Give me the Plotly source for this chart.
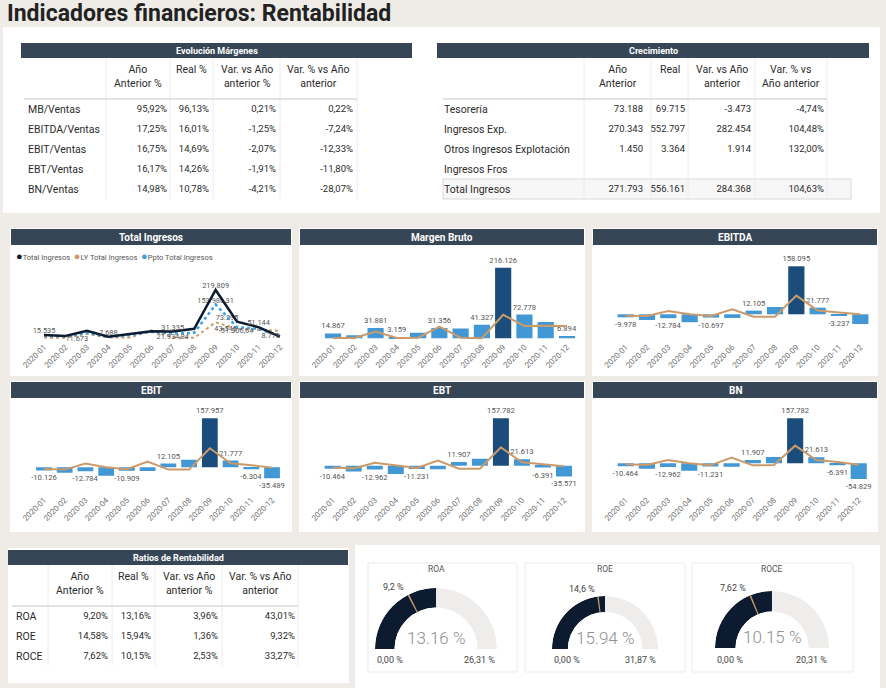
import math

import plotly.graph_objects as go

W, H = 886, 688
FONT = "Roboto, 'Open Sans', sans-serif"

BG = "#efece8"
HEAD = "#374656"
NAVY = "#0c1b2f"
TAN = "#cc9a69"
BLUE = "#4297d5"
DARK_BLUE = "#1a4c7c"
PPTO_BLUE = "#3fa2e3"
GAUGE_BG = "#efedeb"
TXT = "#2b2b2b"
LBL = "#555555"

# ---------------------------------------------------------------- data
months = [
    "2020-01", "2020-02", "2020-03", "2020-04", "2020-05", "2020-06",
    "2020-07", "2020-08", "2020-09", "2020-10", "2020-11", "2020-12",
]

margen_rows = ["MB/Ventas", "EBITDA/Ventas", "EBIT/Ventas", "EBT/Ventas", "BN/Ventas"]
margen_ly = [95.92, 17.25, 16.75, 16.17, 14.98]
margen_real = [96.13, 16.01, 14.69, 14.26, 10.78]
margen_var = [0.21, -1.25, -2.07, -1.91, -4.21]
margen_var_pct = [0.22, -7.24, -12.33, -11.80, -28.07]

crec_rows = ["Tesorería", "Ingresos Exp.", "Otros Ingresos Explotación",
             "Ingresos Fros", "Total Ingresos"]
crec_ly = [73188, 270343, 1450, None, 271793]
crec_real = [69715, 552797, 3364, None, 556161]
crec_var = [-3473, 282454, 1914, None, 284368]
crec_var_pct = [-4.74, 104.48, 132.00, None, 104.63]

ratio_rows = ["ROA", "ROE", "ROCE"]
ratio_ly = [9.20, 14.58, 7.62]
ratio_real = [13.16, 15.94, 10.15]
ratio_var = [3.96, 1.36, 2.53]
ratio_var_pct = [43.01, 9.32, 33.27]
gauge_max = [26.31, 31.87, 20.31]

ti_real = [15535, 11673, 35000, 7688, 20700, 32500, 31335, 44000, 219809, 76000, 51144, 8778]
ti_ly = [4000, 3000, 21500, 4000, 4000, 37200, 5000, 3000, 73295, 43545, 39000, 35000]
ti_ppto = [13000, 10000, 26000, 7000, 16000, 30000, 21934.84, 26000, 153986.31,
           51306.64, 44000, 10000]

mb_real = [14867, 9000, 31881, 3159, 17000, 31356, 30000, 41327, 216126, 72778, 50000, 6894]
mb_ly = [1000, 1000, 20400, 1000, 2000, 35700, 2000, 500, 72000, 37700, 38700, 37700]

ebitda = [-9978, -18700, -12784, -26000, -10697, -12000, 12105, 24000, 158095, 21777,
          -3237, -32000]
ebitda_ly = [-4400, -5500, 11000, 0, -5500, 16500, -7700, -7700, 61500, 12100, 5500, 0]

ebit = [-10126, -18000, -12784, -27000, -10909, -12000, 12105, 24700, 157957, 21777,
        -6304, -35489]
ebit_ly = [-5400, -7500, 11800, 0, -6500, 18300, -7500, -7500, 61300, 12900, 6500, -1100]

ebt = [-10464, -19000, -12962, -27800, -11231, -12000, 11907, 23000, 157782, 21613,
       -6391, -35571]
ebt_ly = [-5600, -8900, 10000, 1100, -7800, 16700, -10000, -10000, 61000, 11100, 4400, -2200]

bn = [-10464, -19000, -12962, -25700, -11231, -11700, 11907, 22000, 157782, 21613,
      -6391, -54829]
bn_ly = [-3500, -5800, 11700, 0, -7000, 19900, -7000, -5800, 62000, 11700, 4700, -4700]


# ---------------------------------------------------------------- helpers
def fx(px):
    return px / W


def fy(py):
    return 1 - py / H


def es_num(v, dec=0):
    if v is None:
        return ""
    s = f"{v:,.{dec}f}"
    return s.replace(",", "_").replace(".", ",").replace("_", ".")


def es_pct(v):
    return "" if v is None else es_num(v, 2) + "%"


fig = go.Figure()
shapes = []
annotations = []
axes = {}


def rect(x0, y0, x1, y1, fill, line=None, layer="below"):
    shapes.append(dict(
        type="rect", xref="paper", yref="paper",
        x0=fx(x0), x1=fx(x1), y0=fy(y1), y1=fy(y0),
        fillcolor=fill, layer=layer,
        line={"width": 1 if line else 0, "color": line or fill},
    ))


def seg(x0, y0, x1, y1, color, width=1):
    shapes.append(dict(
        type="line", xref="paper", yref="paper",
        x0=fx(x0), x1=fx(x1), y0=fy(y0), y1=fy(y1),
        line={"width": width, "color": color}, layer="below",
    ))


def text(x, y, s, size, color=TXT, bold=False, xanchor="center", weight=None,
         yanchor="middle"):
    font = {"family": FONT, "size": size, "color": color}
    if weight:
        font["weight"] = weight
    annotations.append(dict(
        xref="paper", yref="paper", x=fx(x), y=fy(y),
        text=f"<b>{s}</b>" if bold else s, showarrow=False, align="center",
        xanchor=xanchor, yanchor=yanchor, font=font,
    ))


def title_bar(x0, x1, y0, y1, label, size):
    rect(x0, y0, x1, y1, HEAD)
    text((x0 + x1) / 2, (y0 + y1) / 2 + 0.5, label, size, "white", bold=True)


def add_table(rows, cols, headers, bounds, seps, y0):
    # bounds: column edges of the plotly table, seps: drawn separator lines
    widths = [b - a for a, b in zip(bounds[:-1], bounds[1:])]
    top = y0 + 3
    bottom = top + 36 + 20 * len(rows) + 8
    fig.add_trace(go.Table(
        domain={"x": [fx(bounds[0]), fx(bounds[-1])], "y": [fy(bottom), fy(top)]},
        columnwidth=widths,
        header={
            "values": [""] * len(widths),
            "height": 36,
            "fill_color": "rgba(0,0,0,0)",
            "line": {"color": "rgba(0,0,0,0)", "width": 0},
        },
        cells={
            "values": [rows] + cols,
            "align": ["left"] + ["right"] * 4,
            "height": 20,
            "font": {"family": FONT, "size": [10.5, 9.5, 9.5, 9.5, 9.5], "color": TXT},
            "fill_color": "rgba(0,0,0,0)",
            "line": {"color": "rgba(0,0,0,0)", "width": 0},
        },
    ))
    # column headings, centred line by line
    for k, label in enumerate(headers):
        text((seps[k + 1] + seps[k + 2]) / 2, y0 + 3, label, 10.5, TXT, yanchor="top")
    last = y0 + 41 + 20 * len(rows)
    for x in seps[1:]:
        seg(x, y0, x, last, "#ececec")
    seg(seps[0], y0 + 41, seps[-1], y0 + 41, "#e2e2e2", 2)


def set_axes(i, xdom, ydom, yrange):
    sx = "" if i == 1 else str(i)
    axes[f"xaxis{sx}"] = dict(
        domain=[fx(xdom[0]), fx(xdom[1])], anchor=f"y{sx}", type="category",
        range=[-0.5, 11.5], tickmode="linear", tick0=0, dtick=1, tickangle=-45,
        tickfont={"family": FONT, "size": 8, "color": "#707070"},
        showgrid=False, showline=False, zeroline=False, ticks="", fixedrange=True,
        automargin=False,
    )
    axes[f"yaxis{sx}"] = dict(
        domain=[fy(ydom[1]), fy(ydom[0])], anchor=f"x{sx}", range=yrange,
        visible=False, fixedrange=True, automargin=False,
    )
    return f"x{sx}", f"y{sx}"


def bar_chart(i, values, ly, labelled, xdom, ydom, yrange):
    xa, ya = set_axes(i, xdom, ydom, yrange)
    top = max(values)
    fig.add_trace(go.Bar(
        x=months, y=values, xaxis=xa, yaxis=ya,
        marker_color=[DARK_BLUE if v == top else BLUE for v in values],
        marker_line_width=0,
        text=[es_num(v) if k in labelled else "" for k, v in enumerate(values)],
        textposition="outside", cliponaxis=False, constraintext="none",
        textfont={"family": FONT, "size": 7.6, "color": LBL},
        hoverinfo="skip", showlegend=False,
    ))
    fig.add_trace(go.Scatter(
        x=months, y=ly, xaxis=xa, yaxis=ya, mode="lines",
        line={"color": TAN, "width": 2}, hoverinfo="skip", showlegend=False,
    ))


pct_headers = ["Año<br>Anterior %", "Real %", "Var. vs Año<br>anterior %",
               "Var. % vs Año<br>anterior"]

# ---------------------------------------------------------------- panels
rect(3, 27, 880, 213, "white")
title_bar(21, 412, 43, 58, "Evolución Márgenes", 9)
title_bar(437, 869, 43, 58, "Crecimiento", 9)

add_table(
    margen_rows,
    [[es_pct(v) for v in c] for c in (margen_ly, margen_real, margen_var, margen_var_pct)],
    pct_headers,
    [20, 106, 175, 217, 284, 361],
    [24, 106, 170, 213, 280, 357], 58,
)

rect(443, 179, 851, 199, "#f7f7f7", "#d9d9d9")
add_table(
    crec_rows,
    [[es_num(v) for v in crec_ly], [es_num(v) for v in crec_real],
     [es_num(v) for v in crec_var], [es_pct(v) for v in crec_var_pct]],
    ["Año<br>Anterior", "Real", "Var. vs Año<br>anterior", "Var. % vs<br>Año anterior"],
    [436, 582, 651, 693, 759, 832],
    [443, 584, 651, 688, 755, 827], 58,
)

# chart cards
card_x = [(10, 292), (299, 585), (592, 878)]
for (cy0, cy1) in [(228, 376), (381, 532)]:
    for (x0, x1) in card_x:
        rect(x0, cy0, x1, cy1, "white")
titles = [["Total Ingresos", "Margen Bruto", "EBITDA"], ["EBIT", "EBT", "BN"]]
for r, (by0, by1) in enumerate([(229, 245), (382, 398)]):
    for c, (x0, x1) in enumerate(card_x):
        title_bar(x0 + 1, x1 - 1, by0, by1, titles[r][c], 10)

# Total Ingresos line chart
xa, ya = set_axes(1, (33.3, 290.7), (262, 340), [-6800, 346700])
ti_series = [
    (ti_ly, TAN, "dot", 2, {8: "top right", 9: "middle left"}),
    (ti_ppto, PPTO_BLUE, "dot", 2.5, {6: "bottom center", 8: "top center", 9: "bottom center"}),
    (ti_real, NAVY, "solid", 2.5, {0: "top center", 1: "bottom right", 3: "top center",
                                   6: "top center", 8: "top center", 10: "top center",
                                   11: "middle left"}),
]
for vals, color, dash, width, labels in ti_series:
    fig.add_trace(go.Scatter(
        x=months, y=vals, xaxis=xa, yaxis=ya, mode="lines+text",
        line={"color": color, "dash": dash, "width": width},
        text=[es_num(v, 0 if float(v).is_integer() else 2) if k in labels else ""
              for k, v in enumerate(vals)],
        textposition=[labels.get(k, "top center") for k in range(len(vals))],
        textfont={"family": FONT, "size": 7.4, "color": LBL},
        cliponaxis=False, hoverinfo="skip", showlegend=False,
    ))
dot = '<span style="color:{};font-size:11px">●</span>'
text(14, 256,
     f"{dot.format(NAVY)}Total Ingresos  "
     f"{dot.format(TAN)}LY Total Ingresos  "
     f"{dot.format(PPTO_BLUE)}Ppto Total Ingresos",
     7.5, "#555555", xanchor="left")

bar_chart(2, mb_real, mb_ly, [0, 2, 3, 5, 7, 8, 9, 11], (322.4, 577.6), (262, 340), [-5200, 233600])
bar_chart(3, ebitda, ebitda_ly, [0, 2, 4, 6, 8, 9, 10], (615, 871), (262, 340), [-84700, 172300])
bar_chart(4, ebit, ebit_ly, [0, 2, 4, 6, 8, 9, 10, 11], (33.6, 282.4), (412, 493), [-82900, 178300])
bar_chart(5, ebt, ebt_ly, [0, 2, 4, 6, 8, 9, 10, 11], (322.2, 574.5), (412, 493), [-90900, 178800])
bar_chart(6, bn, bn_ly, [0, 2, 4, 6, 8, 9, 10, 11], (615.1, 869.3), (412, 493), [-104000, 179900])

# ratios table
rect(8, 548, 349, 683, "white")
title_bar(8, 348, 550, 565, "Ratios de Rentabilidad", 9)
add_table(
    ratio_rows,
    [[es_pct(v) for v in c] for c in (ratio_ly, ratio_real, ratio_var, ratio_var_pct)],
    pct_headers,
    [8, 48, 116, 159, 226, 303],
    [12, 48, 112, 155, 222, 298], 565,
)

# gauges
rect(355, 545, 880, 688, "white")
gauge_cards = [(368, 517), (525, 685), (692, 853)]
gauge_cx = [436, 605, 772]
gauge_base = [649, 649, 648]
gauge_r = [61, 53, 57]
gauge_hole = [0.68, 0.70, 0.64]
polars = {}
for k, name in enumerate(ratio_rows):
    x0, x1 = gauge_cards[k]
    rect(x0, 563, x1, 672, "white", "#ebebeb")
    pid = "polar" if k == 0 else f"polar{k + 1}"
    cx, base, R = gauge_cx[k], gauge_base[k], gauge_r[k]
    frac = ratio_real[k] / gauge_max[k]
    tgt = ratio_ly[k] / gauge_max[k]
    for theta, width, color in [(90, 180, GAUGE_BG), (90 * frac, 180 * frac, NAVY),
                                (180 * tgt, 1.6, TAN)]:
        fig.add_trace(go.Barpolar(
            r=[1], theta=[theta], width=[width], subplot=pid,
            marker_color=color, marker_line_width=0, hoverinfo="skip", showlegend=False,
        ))
    polars[pid] = dict(
        domain={"x": [fx(cx - R), fx(cx + R)], "y": [fy(base), fy(base - R)]},
        sector=[0, 180], hole=gauge_hole[k], bgcolor="rgba(0,0,0,0)", barmode="overlay",
        radialaxis={"visible": False, "range": [0, 1]},
        angularaxis={"visible": False, "direction": "clockwise", "rotation": 180},
    )
    text(cx, 569, name, 8.5, "#555555")
    text(cx, base - 11, f"{ratio_real[k]:.2f} %", 17, "#8f8f8f", weight=300)
    text(cx - R, 660, es_num(0, 2) + " %", 9, "#444444", xanchor="left")
    text(cx + R, 660, es_num(gauge_max[k], 2) + " %", 9, "#444444", xanchor="right")
    ang = math.pi * (1 - tgt)
    text(cx + (R + 6) * math.cos(ang), base - (R + 6) * math.sin(ang) - 2,
         f"{ratio_ly[k]:.3g}".replace(".", ",") + " %", 9, "#444444", xanchor="right")

# page title
text(5, 13, "Indicadores financieros: Rentabilidad", 23, "#222222", bold=True, xanchor="left")

fig.update_layout(
    width=W, height=H,
    margin={"l": 0, "r": 0, "t": 0, "b": 0, "autoexpand": False},
    paper_bgcolor=BG, plot_bgcolor="rgba(0,0,0,0)",
    bargap=0.24, showlegend=False,
    font={"family": FONT},
    shapes=shapes, annotations=annotations,
    **axes, **polars,
)

fig.write_html(
    "out.html",
    config={"displayModeBar": False},
    post_script="document.body.style.margin='0';document.body.style.overflow='hidden';",
)
